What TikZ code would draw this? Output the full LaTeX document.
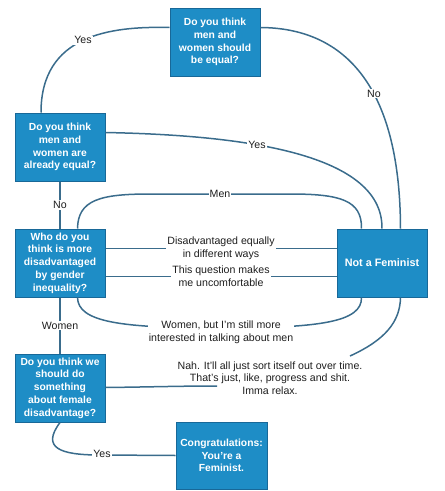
\documentclass[tikz,border=0pt]{standalone}
\usepackage{fontspec}
\setmainfont{Liberation Sans}
\usetikzlibrary{calc}
\definecolor{boxfill}{RGB}{30,141,198}
\definecolor{boxline}{RGB}{24,104,152}
\definecolor{conn}{RGB}{58,108,140}
\definecolor{lbl}{RGB}{30,30,30}
\tikzset{
  qbox/.style={draw=boxline, line width=1pt, fill=boxfill, text=white,
    minimum width=90pt, minimum height=68pt, inner sep=1pt, align=center,
    font=\fontsize{10.3}{12.7}\selectfont\bfseries},
  conline/.style={draw=conn, line width=1.5pt},
  lab/.style={fill=white, text=lbl, inner sep=1pt, align=center,
    font=\fontsize{10.6}{12.7}\selectfont},
  labnf/.style={text=lbl, inner sep=1pt, align=center,
    font=\fontsize{10.6}{12.7}\selectfont}
}
\begin{document}
\begin{tikzpicture}[x=1pt,y=-1pt]
\useasboundingbox (0,0) rectangle (445,491);

\node[qbox] (b1) at (215,42) {Do you think\\men and\\women should\\be equal?};
\node[qbox] (b2) at (60,147) {Do you think\\men and\\women are\\already equal?};
\node[qbox] (b3) at (60,263) {Who do you\\think is more\\disadvantaged\\by gender\\inequality?};
\node[qbox, font=\fontsize{10.8}{12.7}\selectfont\bfseries] (nf) at (382,263) {Not a Feminist};
\node[qbox] (b5) at (60,388) {Do you think we\\should do\\something\\about female\\disadvantage?};
\node[qbox, minimum width=91pt, minimum height=67pt] (b6) at (221.5,455.5) {Congratulations:\\You're a\\Feminist.};

% b1 -> b2 (Yes)
\path[conline] ($(b1.north west)+(0,20)$) .. controls (110,26) and (41,35) .. (b2.north -| 41,0)
  node[lab, pos=0.5] {Yes};
% b1 -> nf (No)
\path[conline] ($(b1.north east)+(0,20)$) .. controls (340,28) and (400,80) .. ($(nf.north east)+(-27,0)$)
  node[lab, pos=0.6] {No};
% b2 -> nf (Yes)
\path[conline] ($(b2.north east)+(0,20)$) .. controls (230,135) and (383,150) .. (nf.north)
  node[lab, pos=0.4] {Yes};
% b2 -> b3 (No)
\path[conline] (b2.south) -- (b3.north) node[lab, midway] {No};
% b3 -> nf (Men)
\path[conline] ($(b3.north west)+(63,0)$) .. controls (78,200) and (100,194) .. (150,194)
  -- (290,194) .. controls (340,194) and (362,200) .. ($(nf.north west)+(25,0)$);
\node[lab] (men) at (220,194) {Men};
% equal
\path[conline] ($(b3.north east)+(0,20)$) -- ($(nf.north west)+(0,20)$)
  node[lab, midway] {Disadvantaged equally\\in different ways};
% uncomfortable
\path[conline] ($(b3.north east)+(0,48)$) -- ($(nf.north west)+(0,48)$)
  node[lab, midway] {This question makes\\me uncomfortable};
% women but men
\path[conline] ($(b3.south west)+(63,0)$) .. controls (78,322) and (120,328) .. (221,328)
  .. controls (320,328) and (362,322) .. ($(nf.south west)+(25,0)$);
\node[lab] (wbm) at (221,332) {Women, but I'm still more\\interested in talking about men};
% b3 -> b5 (Women)
\path[conline] (b3.south) -- (b5.north) node[lab, midway] {Women};
% Nah
\node[labnf] (nah) at (270,378) {Nah. It'll all just sort itself out over time.\\That's just, like, progress and shit.\\Imma relax.};
\coordinate (nahend) at (217,386);
\coordinate (nahstart) at (350,356);
\path[conline] ($(b5.north east)+(0,34)$) .. controls (150,387) and (180,386) .. (nahend);
\path[conline] (nahstart) .. controls (385,340) and (400,322) .. ($(nf.south east)+(-27,0)$);
% b5 -> b6 (Yes)
\path[conline] (b5.south) .. controls (41,448) and (60,455) .. (100,455) -- (b6.west);
\node[lab] (yes3) at (102,454) {Yes};
\end{tikzpicture}
\end{document}
